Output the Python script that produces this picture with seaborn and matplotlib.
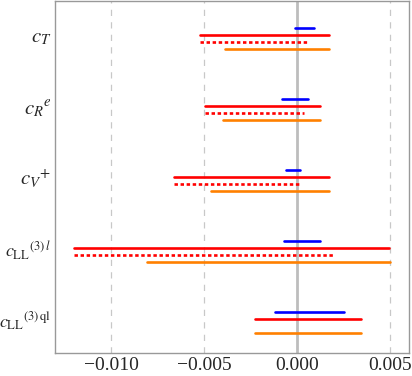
import numpy as np
import pandas as pd
import matplotlib
matplotlib.use("Agg")
import matplotlib.pyplot as plt
from matplotlib.ticker import MultipleLocator
import seaborn as sns

# ---- data ----
categories = [r"${c_T}$", r"${c_R}^{e}$", r"${c_V}^{+}$",
              r"${c_{\rm LL}}^{(3)\,l}$", r"${c_{\rm LL}}^{(3)\,\rm ql}$"]
cat_pos = [5, 4, 3, 2, 1]

blue_lo = [-0.00012, -0.00080, -0.00059, -0.00073, -0.00121]
blue_hi = [0.00087, 0.00059, 0.00016, 0.00121, 0.00249]
red_lo = [-0.00523, -0.00495, -0.00660, -0.01200, -0.00228]
red_hi = [0.00171, 0.00123, 0.00169, 0.00491, 0.00342]
dash_lo = [-0.00523, -0.00495, -0.00660, -0.01200, np.nan]
dash_hi = [0.00064, 0.00037, 0.00020, 0.00189, np.nan]
orange_lo = [-0.00386, -0.00397, -0.00464, -0.00807, -0.00228]
orange_hi = [0.00172, 0.00123, 0.00169, 0.00496, 0.00342]

xticks = [-0.010, -0.005, 0.000, 0.005]
xtick_labels = ["\u22120.010", "\u22120.005", "0.000", "0.005"]

series = {
    "blue": (blue_lo, blue_hi, 0.1),
    "red": (red_lo, red_hi, 0.0),
    "reddash": (dash_lo, dash_hi, -0.1),
    "orange": (orange_lo, orange_hi, -0.2),
}

rows = []
for name, (lo, hi, off) in series.items():
    for i, p in enumerate(cat_pos):
        if np.isnan(lo[i]):
            continue
        seg = f"{name}_{i}"
        rows.append(dict(x=lo[i], y=p + off, series=name, seg=seg))
        rows.append(dict(x=hi[i], y=p + off, series=name, seg=seg))
df = pd.DataFrame(rows)

sns.set_style("white")
plt.rcParams["font.family"] = ["Liberation Serif", "DejaVu Serif"]
plt.rcParams["mathtext.fontset"] = "stix"

fig = plt.figure(figsize=(4.12, 3.76), dpi=100)
ax = fig.add_axes([0.134, 0.061, 0.859, 0.936])

grid_col = "#c8c8c8"
for xv in [-0.010, -0.005, 0.005]:
    ax.axvline(xv, color=grid_col, lw=0.9, ls=(0, (5, 5)), zorder=0)
ax.axvline(0.0, color="#bdbdbd", lw=2.0, zorder=0.5)

palette = {"blue": "#0000ff", "red": "#ff0000", "reddash": "#ff0000", "orange": "#ff8000"}
dashes = {"blue": "", "red": "", "reddash": (1.3, 1.0), "orange": ""}
sns.lineplot(data=df, x="x", y="y", hue="series", style="series", units="seg",
             estimator=None, sort=False, palette=palette, dashes=dashes,
             linewidth=1.9, legend=False, ax=ax)

ax.set_xlim(-0.013, 0.006)
ax.set_ylim(0.52, 5.48)
ax.set_xticks(xticks)
ax.set_xticklabels(xtick_labels, fontsize=14)
ax.xaxis.set_minor_locator(MultipleLocator(0.001))
ax.set_yticks(cat_pos)
ax.set_yticklabels(categories, fontsize=15)
for lab in ax.get_yticklabels()[3:]:
    lab.set_fontsize(13)
ax.set_xlabel("")
ax.set_ylabel("")
ax.tick_params(axis="x", which="major", direction="in", length=5, color="#999999", pad=3)
ax.tick_params(axis="x", which="minor", direction="in", length=3, color="#999999")
ax.tick_params(axis="y", which="major", direction="in", length=4, color="#999999", pad=3)
ax.tick_params(top=False, right=False)
for s in ax.spines.values():
    s.set_color("#999999")
    s.set_linewidth(1.0)

fig.savefig("out.png", dpi=100)
